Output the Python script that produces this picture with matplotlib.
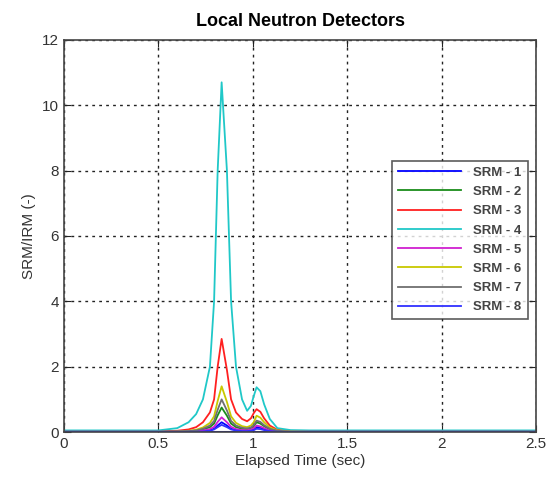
import matplotlib
matplotlib.use("Agg")
import matplotlib.pyplot as plt

plt.rcParams["font.family"] = ["Liberation Sans", "DejaVu Sans"]

# Sampled time points (sec)
time = [0.0, 0.5, 0.6, 0.66, 0.70, 0.736, 0.773, 0.795, 0.814, 0.835, 0.863,
        0.885, 0.911, 0.943, 0.97, 0.99, 1.005, 1.02, 1.04, 1.06, 1.09, 1.13,
        1.2, 1.3, 2.5]

srm_1 = [0.01, 0.01, 0.01, 0.01, 0.02, 0.03, 0.06, 0.10, 0.20, 0.30, 0.20,
         0.10, 0.06, 0.04, 0.04, 0.06, 0.09, 0.15, 0.13, 0.09, 0.04, 0.01,
         0.01, 0.01, 0.01]
srm_2 = [0.01, 0.01, 0.01, 0.02, 0.04, 0.08, 0.15, 0.26, 0.51, 0.75, 0.50,
         0.26, 0.15, 0.10, 0.09, 0.12, 0.18, 0.30, 0.26, 0.18, 0.08, 0.03,
         0.01, 0.01, 0.01]
srm_3 = [0.02, 0.02, 0.04, 0.08, 0.15, 0.30, 0.60, 1.00, 2.00, 2.85, 1.90,
         1.00, 0.60, 0.40, 0.33, 0.42, 0.58, 0.70, 0.62, 0.42, 0.20, 0.07,
         0.03, 0.02, 0.02]
srm_4 = [0.05, 0.05, 0.12, 0.30, 0.55, 1.00, 2.00, 4.00, 8.00, 10.7, 8.00,
         4.00, 2.00, 1.00, 0.65, 0.80, 1.10, 1.37, 1.25, 0.85, 0.40, 0.12,
         0.06, 0.05, 0.05]
srm_5 = [0.01, 0.01, 0.01, 0.01, 0.02, 0.05, 0.09, 0.16, 0.31, 0.45, 0.30,
         0.16, 0.09, 0.06, 0.06, 0.08, 0.12, 0.20, 0.17, 0.12, 0.05, 0.02,
         0.01, 0.01, 0.01]
srm_6 = [0.01, 0.01, 0.02, 0.04, 0.07, 0.14, 0.28, 0.48, 0.95, 1.40, 0.92,
         0.48, 0.28, 0.18, 0.15, 0.20, 0.30, 0.50, 0.44, 0.30, 0.14, 0.05,
         0.02, 0.01, 0.01]
srm_7 = [0.01, 0.01, 0.02, 0.03, 0.05, 0.10, 0.20, 0.34, 0.68, 1.00, 0.66,
         0.34, 0.20, 0.13, 0.11, 0.14, 0.21, 0.35, 0.31, 0.21, 0.10, 0.04,
         0.01, 0.01, 0.01]
srm_8 = [0.01, 0.01, 0.01, 0.01, 0.01, 0.02, 0.04, 0.08, 0.15, 0.22, 0.15,
         0.08, 0.05, 0.03, 0.03, 0.04, 0.06, 0.10, 0.09, 0.06, 0.03, 0.01,
         0.01, 0.01, 0.01]

labels = ["SRM - 1", "SRM - 2", "SRM - 3", "SRM - 4",
          "SRM - 5", "SRM - 6", "SRM - 7", "SRM - 8"]
series = [srm_1, srm_2, srm_3, srm_4, srm_5, srm_6, srm_7, srm_8]
colors = ["#0000FF", "#1A8C1A", "#FF2020", "#20C8C8",
          "#D020D0", "#C8C800", "#707070", "#3030FF"]

fig = plt.figure(figsize=(5.51, 4.86), dpi=100)
ax = fig.add_axes([0.116, 0.111, 0.857, 0.807])

for vals, lab, col in zip(series, labels, colors):
    ax.plot(time, vals, color=col, linewidth=1.3, label=lab)

# thick blue baseline along zero, as in the source
ax.axhline(0, color="#1010C0", linewidth=2.2, zorder=1)

ax.set_xlim(0, 2.5)
ax.set_ylim(0, 12)
ax.set_xticks([0, 0.5, 1, 1.5, 2, 2.5])
ax.set_xticklabels(["0", "0.5", "1", "1.5", "2", "2.5"])
ax.set_yticks(range(0, 13, 2))
ax.tick_params(direction="in", length=5, labelsize=11, top=True, right=True,
               colors="#222222", labelcolor="#333333")
ax.grid(True, color="#222222", linestyle=(0, (2, 3)), linewidth=1.0)
for sp in ax.spines.values():
    sp.set_linewidth(1.2)
    sp.set_color("#444444")

ax.set_xlabel("Elapsed Time (sec)", fontsize=11, labelpad=2, color="#333333")
ax.set_ylabel("SRM/IRM (-)", fontsize=11, labelpad=4, color="#333333")
ax.set_title("Local Neutron Detectors", fontsize=13, fontweight="bold", pad=10)

leg = ax.legend(loc="upper left", bbox_to_anchor=(0.695, 0.692),
                borderaxespad=0, fontsize=9.5, frameon=True, fancybox=False,
                edgecolor="#333333", handlelength=4.8, labelspacing=0.53,
                borderpad=0.45, handletextpad=0.9)
leg.get_frame().set_linewidth(1.2)
for t in leg.get_texts():
    t.set_fontweight("bold")
    t.set_color("#444444")

fig.savefig("out.png", dpi=100)
